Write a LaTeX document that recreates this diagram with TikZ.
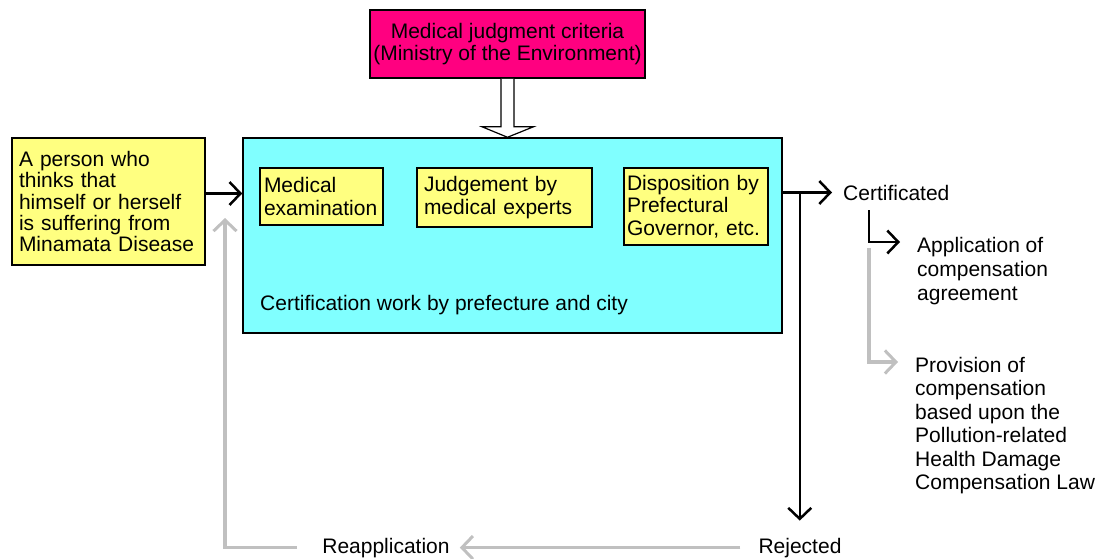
\documentclass[tikz,border=0pt]{standalone}
\usepackage{fontspec}
\setmainfont{Liberation Sans}
\usepackage{xcolor}
\definecolor{cCrit}{HTML}{FF0080}
\definecolor{cWork}{HTML}{80FFFF}
\definecolor{cNote}{HTML}{FFFF80}
\definecolor{cBack}{HTML}{C0C0C0}
\usetikzlibrary{positioning,arrows.meta,calc}
\tikzset{
  node-box/.style={draw=black,line width=1.5pt,align=left,inner ysep=0pt},
  node-note/.style={node-box,fill=cNote},
  node-crit/.style={node-box,fill=cCrit,align=center,inner xsep=0pt,
    minimum width=275pt,minimum height=68pt},
  node-work/.style={node-box,fill=cWork,minimum width=539pt,minimum height=195pt},
  node-text/.style={inner sep=0pt,align=left},
  arrow/.style={-{Straight Barb[length=11pt,width=23pt,line width=2.5pt]},
    line width=2.5pt,draw=black},
  arrow-back/.style={-{Straight Barb[length=11pt,width=23pt,line width=3pt]},
    line width=3.5pt,draw=cBack},
}

\begin{document}
\begin{tikzpicture}[x=1pt,y=-1pt,font=\fontsize{21}{22.5}\selectfont]
  \useasboundingbox (0,0) rectangle (1107,558);
  \node[node-crit] (crit) at (507.5,44) {Medical judgment criteria\\(Ministry of the Environment)};
  \node[node-work] (cert) at (512.5,235.5) {};
  \node[node-note,inner xsep=7pt,text width=179pt,minimum height=127pt,
    font=\fontsize{21}{21.3}\selectfont] (person) at (108.5,201.5)
    {A person who\\thinks that\\himself or herself\\is suffering from\\Minamata Disease};
  \node[node-note,inner xsep=4pt,text width=115pt,minimum height=57pt] (exam) at (321.5,196.5)
    {Medical\\examination};
  \node[node-note,inner xsep=7pt,text width=161pt,minimum height=59pt] (judge) at (504.5,197.5)
    {Judgement by\\medical experts};
  \node[node-note,inner xsep=3pt,text width=138pt,minimum height=77pt] (dispo) at (696,206.5)
    {Disposition by\\Prefectural\\Governor, etc.};
  \node[node-text,anchor=west] (worklabel) at (260,305) {Certification work by prefecture and city};
  \node[node-text,anchor=base west] (certd) at (843,200) {Certificated};
  \node[node-text,anchor=north west,font=\fontsize{21}{24}\selectfont] (appl) at (917,237)
    {Application of\\compensation\\agreement};
  \node[node-text,anchor=north west,font=\fontsize{21}{23.4}\selectfont] (prov) at (915,357)
    {Provision of\\compensation\\based upon the\\Pollution-related\\Health Damage\\Compensation Law};
  \node[node-text,anchor=base] (rej) at (800,553) {Rejected};
  \node[node-text,anchor=base] (reapp) at (386,553) {Reapplication};
  \coordinate (split) at ($(cert.east |- certd.west)+(17,0)$);
  \coordinate (branch) at ($(certd.south west)+(26,10)$);
  \coordinate (reentry) at (225,218);

  % criteria into the certification work
  \draw[line width=1.2pt,fill=white] ($(crit.south)+(-6.5,0)$) -- ++(0,48) -- ++(-19,0)
    -- (crit.south |- cert.north) -- ($(crit.south)+(26,48)$) -- ++(-19.5,0) -- ++(0,-48);
  \draw[arrow] ($(person.east)+(0,-8)$) -- ($(person.east -| cert.west)+(0,-8)$);
  \draw[arrow] (cert.east |- certd.west) -- ($(certd.west)+(-11,0)$);
  \draw[arrow] (split) -- ($(split |- rej.north)+(0,-17)$);
  \draw[arrow] (branch) |- ($(appl.north west)+(-17,5)$);
  \draw[arrow-back] ($(branch |- appl.north west)+(0,11)$) |- ($(prov.north west)+(-17,5)$);
  % way back
  \draw[arrow-back] ($(rej.west)+(-18,0)$) -- ($(reapp.east)+(10,0)$);
  \draw[arrow-back] ($(reapp.west)+(-25,0)$) -| (reentry);
\end{tikzpicture}
\end{document}
